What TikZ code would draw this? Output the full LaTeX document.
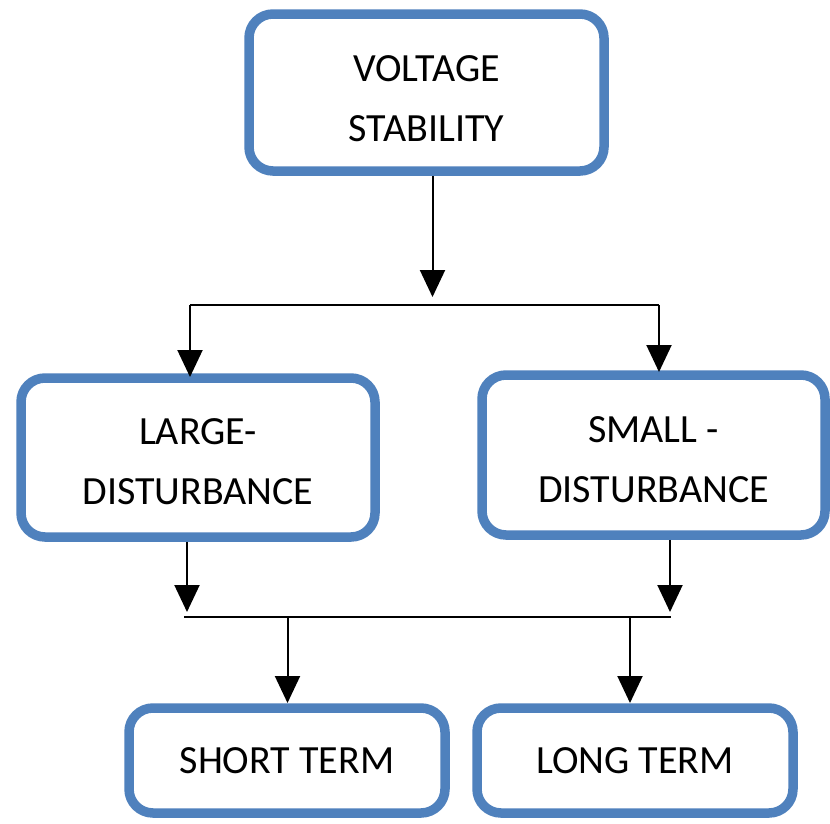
\documentclass[tikz,border=0pt]{standalone}
\usepackage{fontspec}
\setmainfont{Carlito}
\usetikzlibrary{arrows.meta}
\definecolor{boxblue}{RGB}{79,129,189}
\begin{document}
\begin{tikzpicture}[x=1pt,y=-1pt,
  boxnode/.style={draw=boxblue, line width=9.5pt, rounded corners=24pt, fill=white,
    align=center, inner sep=0pt, font=\fontsize{40}{60}\selectfont},
  conn/.style={draw=black, line width=2pt},
  arr/.style={conn, -{Triangle[length=27pt,width=25pt]}}]
\useasboundingbox (0,0) rectangle (830,823);
\fill[white] (0,0) rectangle (830,823);
% boxes
\node[boxnode, minimum width=355pt, minimum height=157pt] (vs) at (426.5,92.5) {\rule{0pt}{38pt}VOLTAGE\\STABILITY};
\node[boxnode, minimum width=354pt, minimum height=159pt] (ld) at (198,457.5) {\rule{0pt}{35pt}LARGE-\\DISTURBANCE};
\node[boxnode, minimum width=343pt, minimum height=160pt] (sd) at (653.5,455) {\rule{0pt}{36pt}SMALL -\\DISTURBANCE};
\node[boxnode, minimum width=316pt, minimum height=105pt] (st) at (287,760.5) {SHORT TERM};
\node[boxnode, minimum width=316pt, minimum height=105pt] (lt) at (635,760.5) {LONG TERM};
% junction coordinates
\coordinate (j1) at (432.5,297);
\coordinate (hl) at (190,305);
\coordinate (hr) at (659,305);
\coordinate (ldin) at (190,377);
\coordinate (sdin) at (659,372);
\coordinate (ldout) at (187,612);
\coordinate (sdout) at (670,612);
\coordinate (bl) at (184,617);
\coordinate (br) at (671,617);
\coordinate (stj) at (287.5,617);
\coordinate (ltj) at (630,617);
\coordinate (stin) at (287.5,703);
\coordinate (ltin) at (630,703);
% connectors
\draw[arr] (vs.south -| j1) -- (j1);
\draw[conn] (hl) -- (hr);
\draw[arr] (hl) -- (ldin);
\draw[arr] (hr) -- (sdin);
\draw[arr] (ld.south -| ldout) -- (ldout);
\draw[arr] (sd.south -| sdout) -- (sdout);
\draw[conn] (bl) -- (br);
\draw[arr] (stj) -- (stin);
\draw[arr] (ltj) -- (ltin);
\end{tikzpicture}
\end{document}
